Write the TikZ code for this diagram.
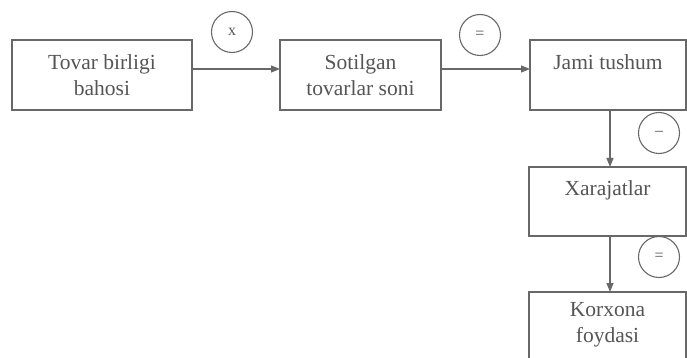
\documentclass[tikz,border=0pt]{standalone}
\usepackage{fontspec}
\setmainfont{Liberation Serif}
\usetikzlibrary{arrows.meta}
\definecolor{ln}{HTML}{686868}
\definecolor{tx}{HTML}{555555}
\tikzset{
  box/.style={draw=ln, line width=1.1pt, minimum width=#1, inner sep=0pt},
  txt/.style={text=tx, font=\fontsize{21.5}{26}\selectfont, align=center, inner sep=0pt},
  op/.style={draw=ln, line width=1.1pt, circle, minimum size=41pt, inner sep=0pt, text=tx, font=\fontsize{16}{17}\selectfont},
  arr/.style={draw=ln, line width=1.1pt, -{Triangle[length=9pt,width=7pt]}}
}
\begin{document}
\begin{tikzpicture}[x=1pt,y=-1pt]
\useasboundingbox (0,0) rectangle (687,358);
% boxes
\node[box=180pt, minimum height=70pt] (b1) at (102,75) {};
\node[txt] (t1) at (102,75) {Tovar birligi\\bahosi};
\node[box=161pt, minimum height=70pt] (b2) at (360.5,75) {};
\node[txt] (t2) at (360.5,75) {Sotilgan\\tovarlar soni};
\node[box=156pt, minimum height=70pt] (b3) at (608,75) {};
\node[txt, anchor=base] (t3) at (608,70) {Jami tushum};
\node[box=157pt, minimum height=69pt] (b4) at (607.5,201.5) {};
\node[txt, anchor=base] (t4) at (607.5,195) {Xarajatlar};
\node[box=157pt, minimum height=75pt] (b5) at (607.5,329.5) {};
\node[txt] (t5) at (607.5,324.5) {Korxona\\foydasi};
% operators
\node[op] (c1) at (232,32) {x};
\node[op] (c2) at (480,35) {=};
\node[op] (c3) at (659,133) {--};
\node[op] (c4) at (659,257) {=};
% connectors
\coordinate (p1) at (192,69);
\coordinate (q1) at (280,69);
\coordinate (p2) at (441,69);
\coordinate (q2) at (530,69);
\coordinate (p3) at (610,110);
\coordinate (q3) at (610,167);
\coordinate (p4) at (610,236);
\coordinate (q4) at (610,292);
\draw[arr] (p1) -- (q1);
\draw[arr] (p2) -- (q2);
\draw[arr] (p3) -- (q3);
\draw[arr] (p4) -- (q4);
\end{tikzpicture}
\end{document}
